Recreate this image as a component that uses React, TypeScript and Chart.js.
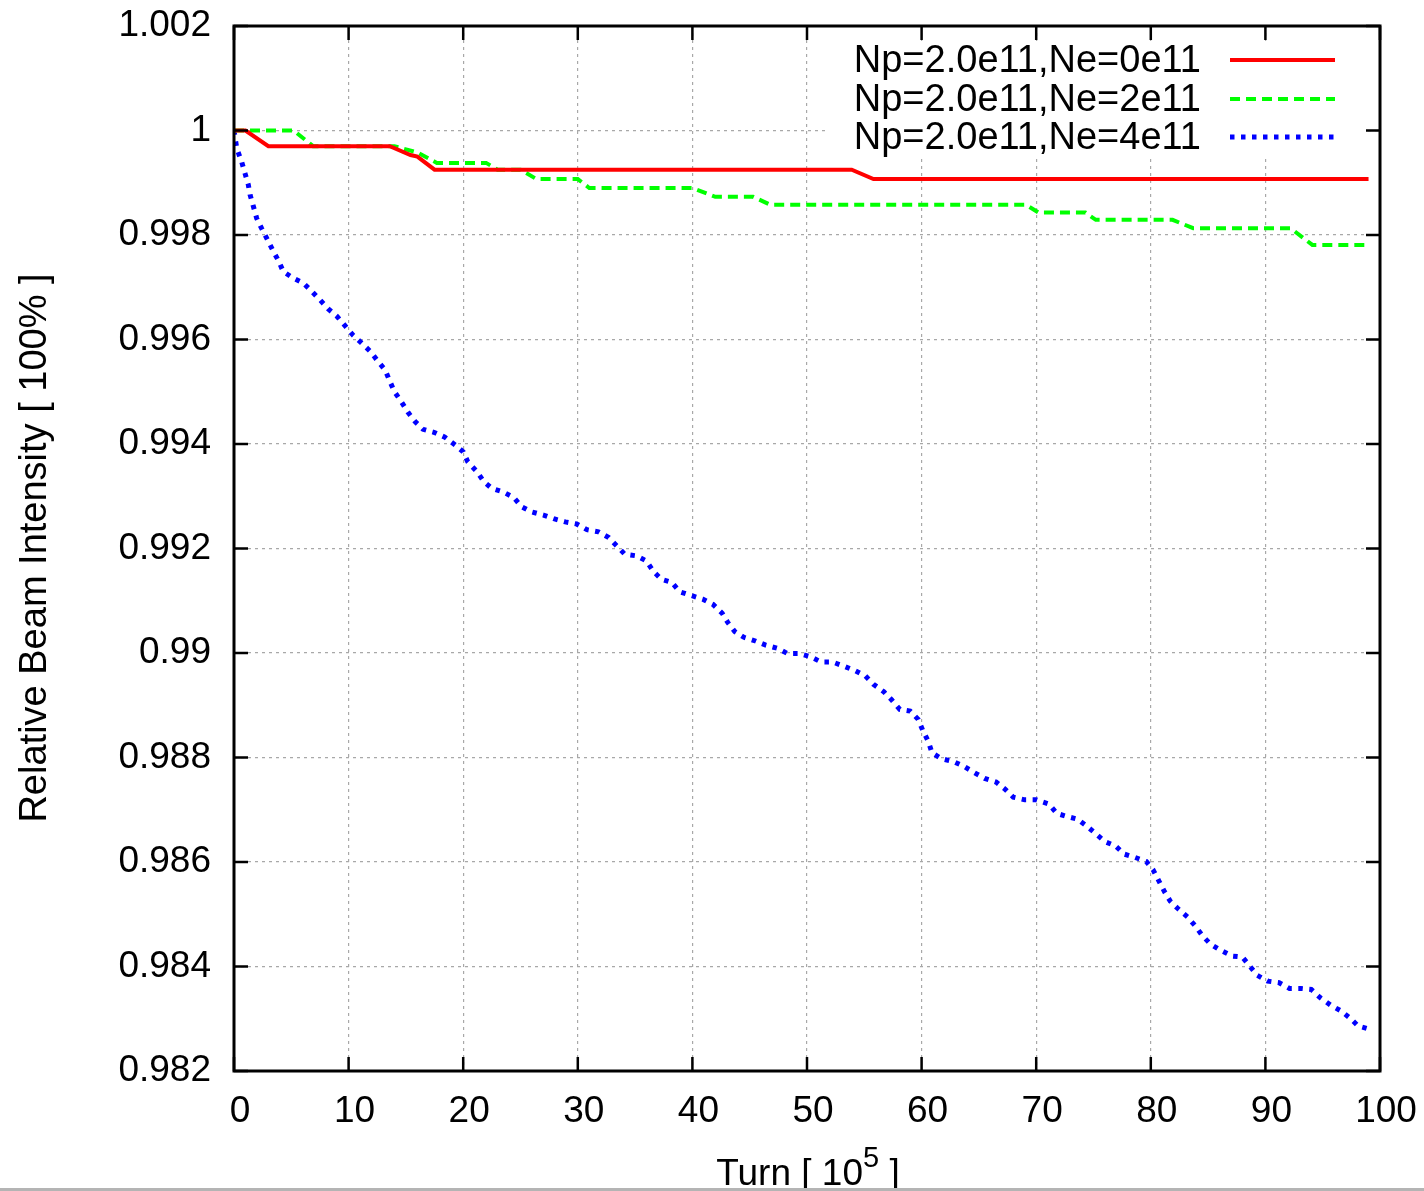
import React, { useEffect, useRef } from "react";
import { Chart, registerables } from "chart.js";

Chart.register(...registerables);

const seriesLabels = ["Np=2.0e11,Ne=0e11", "Np=2.0e11,Ne=2e11", "Np=2.0e11,Ne=4e11"];
const seriesColors = ["#ff0000", "#00ff00", "#0000ff"];

const xTickValues = [0, 10, 20, 30, 40, 50, 60, 70, 80, 90, 100];
const yTickValues = [0.982, 0.984, 0.986, 0.988, 0.99, 0.992, 0.994, 0.996, 0.998, 1.0, 1.002];
const yTickLabels = ["0.982", "0.984", "0.986", "0.988", "0.99", "0.992", "0.994", "0.996", "0.998", "1", "1.002"];

const redX = [0, 1, 3, 13.6, 15.4, 16, 17.5, 53.9, 55.8, 99];
const redY = [1.0, 1.0, 0.9997, 0.9997, 0.99953, 0.9995, 0.99925, 0.99925, 0.99907, 0.99907];

const greenX = [0, 5.2, 6.9, 14, 16, 17.7, 22, 23, 25, 26.4, 30, 31, 40, 42, 45.3, 46.8, 69.1, 70.2, 74.3, 75.2, 81.9, 83.7, 92.2, 94.1, 99];
const greenY = [1.0, 1.0, 0.9997, 0.9997, 0.99958, 0.99938, 0.99938, 0.99925, 0.99925, 0.99907, 0.99907, 0.9989, 0.9989, 0.99873, 0.99873, 0.99858, 0.99858, 0.99843, 0.99843, 0.99829, 0.99829, 0.99813, 0.99813, 0.99781, 0.99781];

const blueX = [0, 0.24, 0.67, 0.96, 1.25, 1.4, 1.7, 1.98, 2.4, 2.85, 3.4, 3.9, 4.3, 5.2, 6.05, 6.8, 7.5, 8.2, 9.0, 9.7, 10.4, 11.1, 11.9, 12.5, 13.2, 13.6, 14.0, 14.6, 15.2, 15.8, 16.5, 17.5, 18.4, 19.3, 20.0, 20.4, 21.2, 21.8, 22.5, 23.5, 24.4, 25.1, 26.0, 27.0, 27.9, 28.9, 29.9, 30.8, 31.8, 32.7, 33.4, 34.1, 35.1, 36.0, 36.6, 37.3, 38.2, 38.9, 39.9, 40.9, 41.8, 42.6, 43.1, 43.7, 44.5, 45.5, 46.4, 47.4, 48.3, 49.3, 50.3, 51.2, 52.2, 53.2, 54.2, 55.1, 55.8, 56.7, 57.4, 58.1, 59.0, 59.7, 60.1, 60.6, 60.9, 61.7, 62.8, 63.7, 64.6, 65.5, 66.5, 67.3, 68.0, 69.0, 70.0, 71.1, 71.8, 72.7, 73.6, 74.4, 75.2, 76.0, 76.9, 77.7, 78.6, 79.6, 80.2, 80.7, 81.2, 81.7, 82.4, 83.2, 83.9, 84.5, 85.2, 86.1, 87.1, 88.0, 88.7, 89.3, 90.2, 91.2, 92.1, 93.1, 94.0, 94.8, 95.7, 96.6, 97.4, 98.1, 98.9];
const blueY = [1.0, 0.99966, 0.9994, 0.99918, 0.99896, 0.99877, 0.99854, 0.99832, 0.99813, 0.99794, 0.9977, 0.9975, 0.9973, 0.99717, 0.99708, 0.99692, 0.99676, 0.99659, 0.99644, 0.99626, 0.99608, 0.99594, 0.99577, 0.9956, 0.99541, 0.9952, 0.995, 0.99481, 0.9946, 0.99443, 0.99428, 0.99422, 0.99413, 0.99398, 0.99385, 0.99366, 0.99347, 0.99328, 0.99315, 0.99308, 0.99298, 0.9928, 0.9927, 0.99264, 0.99257, 0.99251, 0.99247, 0.99236, 0.99232, 0.99221, 0.99205, 0.99189, 0.99186, 0.99176, 0.99156, 0.99141, 0.99135, 0.99117, 0.9911, 0.99103, 0.99093, 0.99076, 0.99058, 0.99041, 0.9903, 0.99023, 0.99015, 0.99009, 0.98999, 0.98999, 0.98993, 0.98983, 0.98983, 0.98975, 0.98966, 0.98956, 0.9894, 0.98926, 0.9891, 0.98892, 0.98889, 0.98873, 0.98852, 0.9883, 0.98809, 0.98798, 0.98792, 0.98783, 0.98771, 0.9876, 0.98753, 0.98739, 0.98724, 0.98719, 0.98719, 0.98711, 0.98693, 0.98687, 0.98682, 0.98669, 0.98654, 0.98639, 0.98631, 0.98615, 0.98609, 0.98601, 0.98585, 0.98564, 0.98543, 0.98525, 0.9851, 0.98495, 0.98477, 0.98459, 0.98443, 0.98431, 0.9842, 0.98418, 0.98399, 0.98383, 0.98372, 0.98369, 0.98358, 0.98358, 0.98356, 0.9834, 0.98326, 0.98315, 0.98301, 0.98286, 0.98281];

const xTitle = "Turn [ 10";
const xTitleSup = "5";
const xTitleEnd = " ]";
const yTitle = "Relative Beam Intensity [ 100% ]";

const FONT = '"Liberation Sans", Arial, Helvetica, sans-serif';
const dashes: number[][] = [[], [10, 6], [4.5, 6.5]];
const widths = [4, 4, 5];

const toPoints = (xs: number[], ys: number[]) => xs.map((x, i) => ({ x, y: ys[i] }));

const framePlugin = {
  id: "gnuplotFrame",
  beforeDatasetsDraw(chart: any) {
    const ctx = chart.ctx;
    ctx.save();
    ctx.fillStyle = "#ffffff";
    ctx.fillRect(828, 41, 538, 115);
    ctx.restore();
  },
  afterDraw(chart: any) {
    const ctx = chart.ctx;
    const { left, right, top, bottom } = chart.chartArea;
    const xs = chart.scales.x;
    const ys = chart.scales.y;
    ctx.save();
    ctx.strokeStyle = "#000";
    ctx.lineWidth = 2.5;
    ctx.beginPath();
    const tl = 14;
    xTickValues.forEach((v) => {
      const px = xs.getPixelForValue(v);
      ctx.moveTo(px, bottom);
      ctx.lineTo(px, bottom - tl);
      ctx.moveTo(px, top);
      ctx.lineTo(px, top + tl);
    });
    yTickValues.forEach((v) => {
      const py = ys.getPixelForValue(v);
      ctx.moveTo(left, py);
      ctx.lineTo(left + tl, py);
      ctx.moveTo(right, py);
      ctx.lineTo(right - tl, py);
    });
    ctx.stroke();
    ctx.lineWidth = 3;
    ctx.strokeRect(left, top, right - left, bottom - top);

    // legend
    ctx.font = `38px ${FONT}`;
    ctx.fillStyle = "#000";
    ctx.textAlign = "right";
    ctx.textBaseline = "middle";
    const rowY = [60, 99, 137];
    seriesLabels.forEach((lab, i) => {
      ctx.fillText(lab, 1201, rowY[i] + 2);
      ctx.beginPath();
      ctx.strokeStyle = seriesColors[i];
      ctx.lineWidth = widths[i];
      ctx.setLineDash(dashes[i]);
      ctx.moveTo(1230, rowY[i]);
      ctx.lineTo(1335, rowY[i]);
      ctx.stroke();
      ctx.setLineDash([]);
    });

    // y title
    ctx.save();
    ctx.translate(36, 548);
    ctx.rotate(-Math.PI / 2);
    ctx.textAlign = "center";
    ctx.textBaseline = "middle";
    ctx.fillStyle = "#000";
    ctx.font = `38px ${FONT}`;
    ctx.fillText(yTitle, 0, 0);
    ctx.restore();

    // x title with superscript
    ctx.font = `37px ${FONT}`;
    const w1 = ctx.measureText(xTitle).width;
    const w3 = ctx.measureText(xTitleEnd).width;
    ctx.font = `29px ${FONT}`;
    const w2 = ctx.measureText(xTitleSup).width;
    const total = w1 + w2 + w3;
    const x0 = 808 - total / 2;
    ctx.textAlign = "left";
    ctx.textBaseline = "alphabetic";
    ctx.fillStyle = "#000";
    ctx.font = `37px ${FONT}`;
    ctx.fillText(xTitle, x0, 1185);
    ctx.font = `29px ${FONT}`;
    ctx.fillText(xTitleSup, x0 + w1, 1167);
    ctx.font = `37px ${FONT}`;
    ctx.fillText(xTitleEnd, x0 + w1 + w2, 1185);

    // bottom frame line of the screenshot
    ctx.fillStyle = "#b4b4b4";
    ctx.fillRect(0, 1188, 1424, 3);
    ctx.restore();
  },
};

export default function App() {
  const canvasRef = useRef<HTMLCanvasElement | null>(null);

  useEffect(() => {
    const canvas = canvasRef.current;
    if (!canvas) return;
    const chart = new Chart(canvas, {
      type: "line",
      data: {
        datasets: [
          {
            label: seriesLabels[0],
            data: toPoints(redX, redY),
            borderColor: seriesColors[0],
            borderWidth: widths[0],
            pointRadius: 0,
            tension: 0,
          },
          {
            label: seriesLabels[1],
            data: toPoints(greenX, greenY),
            borderColor: seriesColors[1],
            borderWidth: widths[1],
            borderDash: dashes[1],
            pointRadius: 0,
            tension: 0,
          },
          {
            label: seriesLabels[2],
            data: toPoints(blueX, blueY),
            borderColor: seriesColors[2],
            borderWidth: widths[2],
            borderDash: dashes[2],
            pointRadius: 0,
            tension: 0,
          },
        ],
      },
      options: {
        animation: false,
        responsive: false,
        devicePixelRatio: 1,
        layout: { padding: { top: 26, right: 44, left: 0, bottom: 0 } },
        plugins: {
          legend: { display: false },
          tooltip: { enabled: false },
          title: { display: false },
        },
        scales: {
          x: {
            type: "linear",
            min: 0,
            max: 100,
            afterFit: (s: any) => {
              s.height = 120;
              s.paddingLeft = 0;
              s.paddingRight = 0;
            },
            afterBuildTicks: (s: any) => {
              s.ticks = xTickValues.map((v) => ({ value: v }));
            },
            ticks: {
              font: { family: FONT, size: 37 },
              color: "#000",
              padding: 19,
              labelOffset: 6,
              maxRotation: 0,
              autoSkip: false,
              callback: (v: any) => String(v),
            },
            grid: {
              color: "#a8a8a8",
              lineWidth: 1.2,
              drawTicks: false,
            },
            border: { display: false, dash: [3, 4] },
          },
          y: {
            type: "linear",
            min: 0.982,
            max: 1.002,
            afterFit: (s: any) => {
              s.width = 234;
              s.paddingTop = 0;
              s.paddingBottom = 0;
            },
            afterBuildTicks: (s: any) => {
              s.ticks = yTickValues.map((v) => ({ value: v }));
            },
            ticks: {
              font: { family: FONT, size: 37 },
              color: "#000",
              padding: 23,
              autoSkip: false,
              callback: (v: any) => {
                const i = yTickValues.findIndex((t) => Math.abs(t - v) < 1e-9);
                return i >= 0 ? yTickLabels[i] : "";
              },
            },
            grid: {
              color: "#a8a8a8",
              lineWidth: 1.2,
              drawTicks: false,
            },
            border: { display: false, dash: [3, 4] },
          },
        },
      },
      plugins: [framePlugin],
    });
    return () => chart.destroy();
  }, []);

  return (
    <div style={{ position: "absolute", left: 0, top: 0, width: 1424, height: 1191, background: "#fff" }}>
      <canvas ref={canvasRef} width={1424} height={1191} style={{ display: "block", width: 1424, height: 1191 }} />
    </div>
  );
}
